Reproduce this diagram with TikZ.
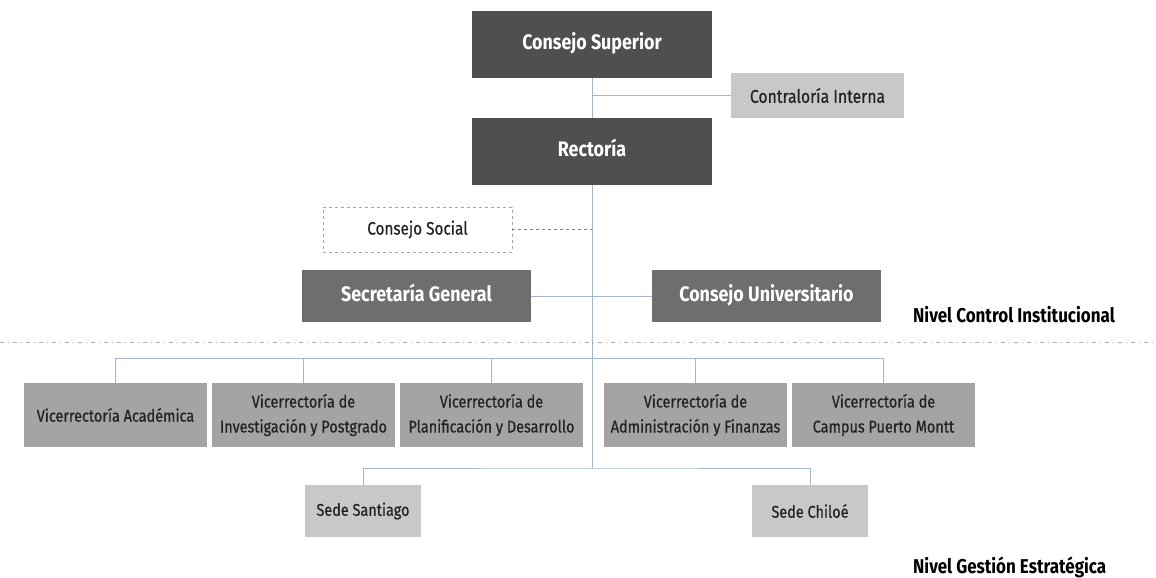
\documentclass[tikz,border=0pt]{standalone}
\usepackage{fontspec}
\setmainfont{Fira Sans}[FakeStretch=0.85]
\newfontfamily\medio{Fira Sans}[FakeStretch=0.85, FakeBold=0.6]
\usetikzlibrary{positioning}
\definecolor{grisoscuro}{HTML}{4F4F4F}
\definecolor{grismedio}{HTML}{6E6E6E}
\definecolor{grisvice}{HTML}{A4A4A4}
\definecolor{grisclaro}{HTML}{C8C8C8}
\definecolor{textogris}{HTML}{222222}
\definecolor{lineazul}{HTML}{A3B6CC}

\begin{document}
\begin{tikzpicture}[x=1pt, y=-1pt, on grid, node distance=188pt,
    caja/.style={rectangle, inner sep=0pt, align=center},
    superior/.style={caja, fill=grisoscuro, text=white, minimum width=240pt, minimum height=67pt,
        text height=15pt, text depth=5pt, font=\fontsize{21}{24}\selectfont\bfseries},
    control/.style={caja, fill=grismedio, text=white, minimum width=229pt, minimum height=52pt,
        text height=15pt, text depth=5pt, font=\fontsize{21}{24}\selectfont\bfseries},
    vice/.style={caja, fill=grisvice, text=textogris, minimum width=183pt, minimum height=64pt,
        font=\medio\fontsize{17}{25}\selectfont},
    sede/.style={caja, fill=grisclaro, text=textogris, minimum width=116pt, minimum height=52pt,
        font=\medio\fontsize{17}{24}\selectfont},
    nivel/.style={anchor=west, inner sep=0pt, font=\fontsize{20}{24}\selectfont\bfseries},
    linea/.style={draw=lineazul, line width=1pt}]
    \fill[white] (0,0) rectangle (1156,578);
    \useasboundingbox (0,0) rectangle (1156,578);

    % nivel control institucional
    \node [superior] (cs) at (592,44.5) {Consejo Superior};
    \node [superior] [below=107pt of cs] (rec) {Rectoría};
    \node [caja, fill=grisclaro, text=textogris, minimum width=173pt, minimum height=45pt,
        font=\medio\fontsize{18.5}{22}\selectfont] (ci) at (817.5,95.5) {Contraloría Interna};
    \node [caja, draw=gray!70, dashed, fill=white, text=textogris, minimum width=189pt,
        minimum height=45pt, font=\medio\fontsize{18}{22}\selectfont] (csoc) at (417.5,229.5) {Consejo Social};
    \node [control] (sg) at (416.5,296) {Secretaría General};
    \node [control] [right=350pt of sg] (cu) {Consejo Universitario};
    \node [nivel] (nci) at (913,315) {Nivel Control Institucional};

    \coordinate (sepL) at (0,342);
    \coordinate (sepR) at (1156,342);
    \draw [gray!60, line width=1pt, dash pattern=on 4pt off 4pt on 1pt off 4pt] (sepL) -- (sepR);

    % nivel gestion estrategica
    \node [vice] (va) at (115.5,415) {Vicerrectoría Académica};
    \node [vice] [right=of va] (vip) {Vicerrectoría de\\Investigación y Postgrado};
    \node [vice] [right=of vip] (vpd) {Vicerrectoría de\\Planificación y Desarrollo};
    \node [vice] (vaf) at (695.5,415) {Vicerrectoría de\\Administración y Finanzas};
    \node [vice] [right=of vaf] (vcpm) {Vicerrectoría de\\Campus Puerto Montt};
    \node [sede] (ss) at (363,511) {Sede Santiago};
    \node [sede] [right=447pt of ss] (sch) {Sede Chiloé};
    \node [nivel] (nge) at (913,567) {Nivel Gestión Estratégica};

    \coordinate (vbus) at (592,358);
    \coordinate (sbus) at (592,468);

    \path[linea]
        (cs) -- (rec)
        (ci.west) -- (ci.west -| cs.south)
        (rec) -- (sbus)
        (sg) -- (cu)
        (ss.north) |- (sbus) -| (sch.north);
    \draw [gray, dashed, line width=0.8pt] (csoc.east) -- (csoc.east -| rec.south);
    \foreach \v in {va,vip,vpd,vaf,vcpm}
        \draw [linea] (\v.north) |- (vbus);
\end{tikzpicture}
\end{document}
